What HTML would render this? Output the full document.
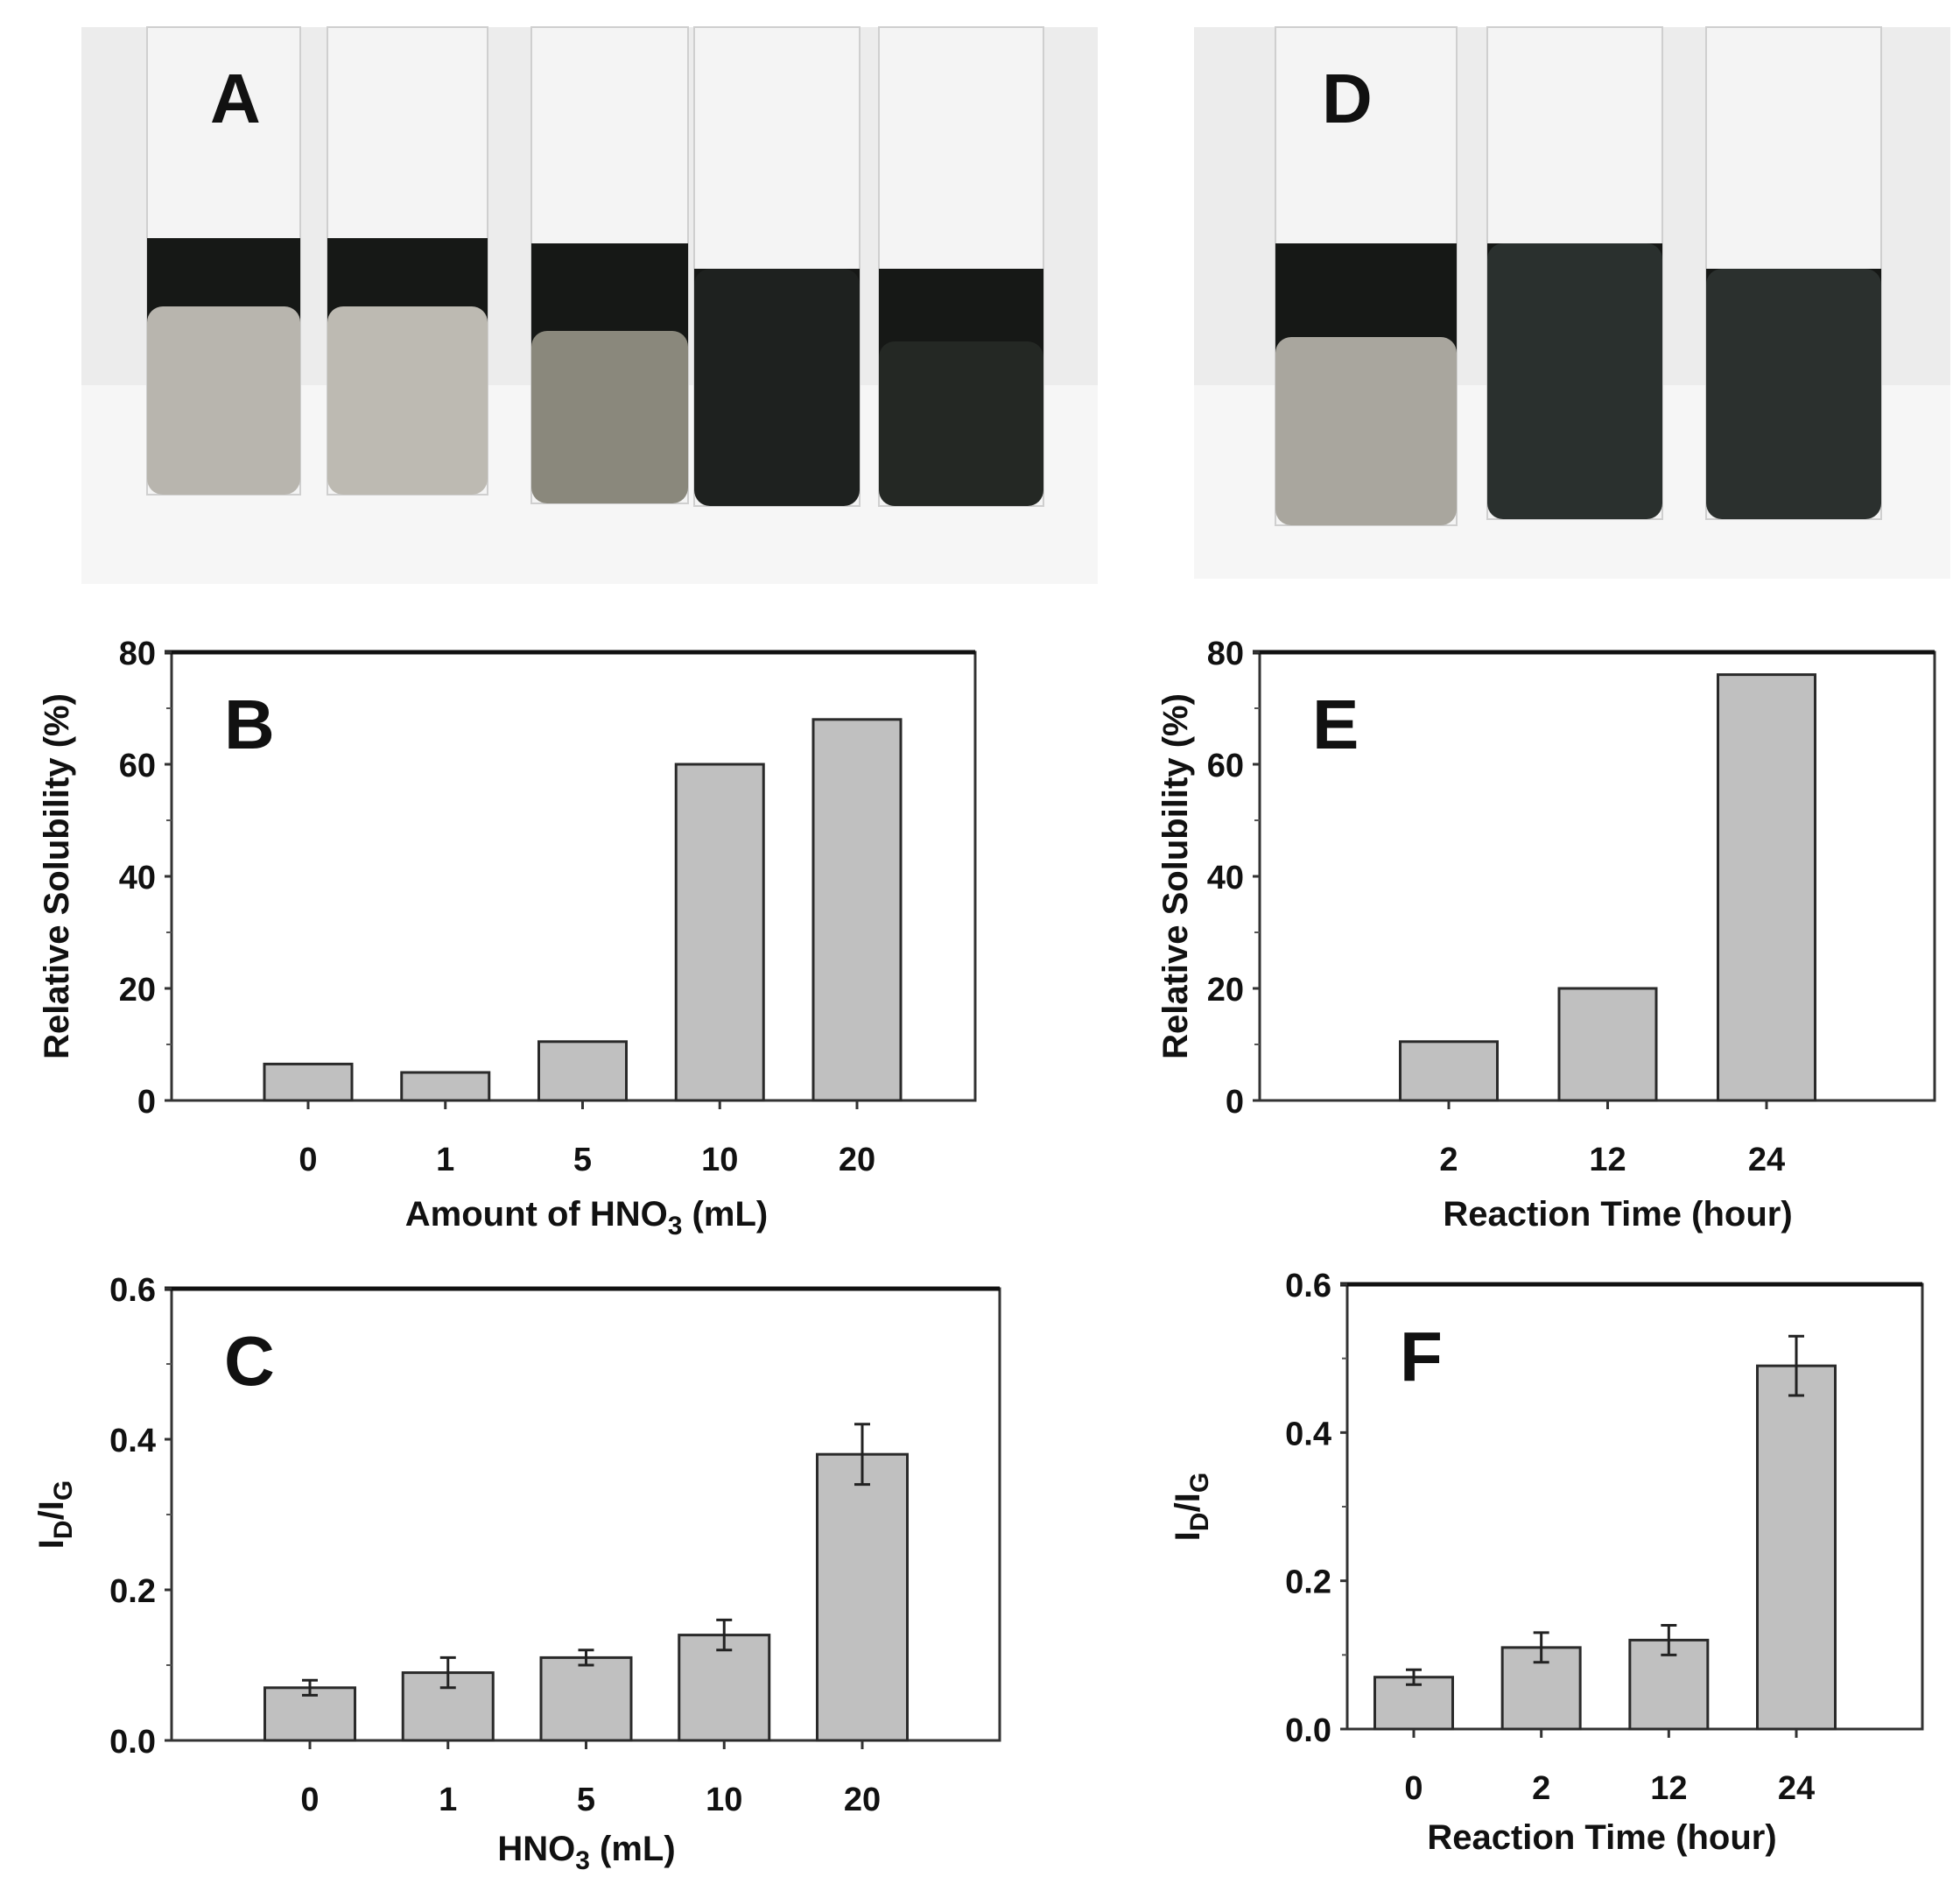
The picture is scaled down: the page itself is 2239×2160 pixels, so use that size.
<!DOCTYPE html>
<html><head><meta charset="utf-8"><style>
html,body{margin:0;padding:0;background:#fff}
svg{display:block}
text{font-family:"Liberation Sans",Arial,sans-serif;font-weight:bold;fill:#111}
</style></head><body>
<svg id="fig" width="2239" height="2160" viewBox="0 0 2239 2160" xmlns="http://www.w3.org/2000/svg">
<g id="photos">
<rect x="93" y="31" width="1161" height="636" fill="#ececec"/>
<rect x="93" y="440" width="1161" height="227" fill="#f6f6f6"/>
<rect x="1364" y="31" width="864" height="630" fill="#ececec"/>
<rect x="1364" y="440" width="864" height="221" fill="#f6f6f6"/>
</g>
<g id="vials"></g>
<text x="240" y="140" font-size="80">A</text>
<text x="1510" y="140" font-size="80">D</text>
<g id="charts"></g>
</svg>
<script>
// Panel B data
const catsB = ['0','1','5','10','20'];
const valsB = [6.5, 5, 10.5, 60, 68];
const ticksB = [0,20,40,60,80];
// Panel C data
const catsC = ['0','1','5','10','20'];
const valsC = [0.07, 0.09, 0.11, 0.14, 0.38];
const errC = [0.01, 0.02, 0.01, 0.02, 0.04];
const ticksC = ['0.0','0.2','0.4','0.6'];
// Panel E data
const catsE = ['2','12','24'];
const valsE = [10.5, 20, 76];
const ticksE = [0,20,40,60,80];
// Panel F data
const catsF = ['0','2','12','24'];
const valsF = [0.07, 0.11, 0.12, 0.49];
const errF = [0.01, 0.02, 0.02, 0.04];
const ticksF = ['0.0','0.2','0.4','0.6'];

const NS='http://www.w3.org/2000/svg';
function mk(parent,tag,attrs,txt){const e=document.createElementNS(NS,tag);for(const k in attrs)e.setAttribute(k,attrs[k]);if(txt!==undefined)e.textContent=txt;parent.appendChild(e);return e;}

// vials (decorative photo)
const vg=document.getElementById('vials');
const vialSpecs=[[168,343,272,350,'#b8b5ae',565],[374,557,272,350,'#bdbab2',565],[607,786,278,378,'#8a887c',575],[793,982,307,307,'#1e211f',578],[1004,1192,307,390,'#242824',578],
[1457,1664,278,385,'#a9a69e',600],[1699,1899,278,278,'#2a302e',593],[1949,2149,307,307,'#2b302e',593]];
vialSpecs.forEach((v,i)=>{
  const [x0,x1,d0,d1,col,bot]=v;
  const g=mk(vg,'g',{});
  
  
  mk(g,'rect',{x:x0,y:31,width:x1-x0,height:bot-31,fill:'#f4f4f4',stroke:'#cfcfcf','stroke-width':2});
  mk(g,'rect',{x:x0,y:d0,width:x1-x0,height:d1-d0+20,fill:'#161816'});
  mk(g,'rect',{x:x0,y:d1,width:x1-x0,height:bot-d1,rx:18,fill:col});
});

const charts=document.getElementById('charts');
function chart(o){
  const g=mk(charts,'g',{});
  
  
  const {L,T,R,B,ymax}=o;
  const y=v=>B-(v/ymax)*(B-T);
  const n=o.cats.length;
  const x=i=>o.c0+i*(o.c1-o.c0)/(n-1);
  // frame
  const fr=mk(g,'rect',{x:L,y:T,width:R-L,height:B-T,fill:'none',stroke:'#333','stroke-width':3});
  
  
  mk(g,'line',{x1:L-8,x2:R,y1:T,y2:T,stroke:'#111','stroke-width':5});
  // y ticks
  o.ticks.forEach((t,i)=>{
    const v=parseFloat(t);const yy=y(v);
    mk(g,'line',{x1:L-8,x2:L,y1:yy,y2:yy,stroke:'#333','stroke-width':3});
    const tx=mk(g,'text',{x:L-18,y:yy+14,'font-size':38,'text-anchor':'end'},t);
    
    
    if(i<o.ticks.length-1){const ym=y(v+ (parseFloat(o.ticks[1])-parseFloat(o.ticks[0]))/2);
      mk(g,'line',{x1:L-6,x2:L,y1:ym,y2:ym,stroke:'#555','stroke-width':2});}
  });
  o.cats.forEach((c,i)=>{
    const xx=x(i);
    const r=mk(g,'rect',{x:xx-o.bw/2,y:y(o.vals[i]),width:o.bw,height:B-y(o.vals[i]),fill:'#c0c0c0',stroke:'#2a2a2a','stroke-width':3});
    
    
    if(o.err){
      const e1=y(o.vals[i]+o.err[i]),e2=y(o.vals[i]-o.err[i]);
      const eb=mk(g,'path',{d:`M${xx},${e1}V${e2}M${xx-9},${e1}H${xx+9}M${xx-9},${e2}H${xx+9}`,stroke:'#222','stroke-width':3,fill:'none'});
      
      
    }
    mk(g,'line',{x1:xx,x2:xx,y1:B,y2:B+10,stroke:'#333','stroke-width':3});
    const tl=mk(g,'text',{x:xx,y:B+o.tickDy,'font-size':38,'text-anchor':'middle'},c);
    
    
  });
  const lab=mk(g,'text',{x:L+60,y:T+110,'font-size':80},o.letter);
  
  
  const xt=mk(g,'text',{x:o.xtX,y:o.xtY,'font-size':40,'text-anchor':'middle'});
  xt.innerHTML=o.xtitle;
  
  
  const yt=mk(g,'text',{x:0,y:0,'font-size':40,'text-anchor':'middle',transform:`translate(${o.ytX},${(T+B)/2}) rotate(-90)`});
  yt.innerHTML=o.ytitle;
  
  
}
chart({name:'chart-b',letter:'B',L:196,T:745,R:1114,B:1257,ymax:80,cats:catsB,vals:valsB,ticks:ticksB.map(String),c0:352,c1:979,bw:100,tickDy:80,xtitle:'Amount of HNO<tspan font-size="30" dy="10">3</tspan><tspan dy="-10"> (mL)</tspan>',xtX:670,xtY:1400,ytitle:'Relative Solubility (%)',ytX:78});
chart({name:'chart-c',letter:'C',L:196,T:1472,R:1142,B:1988,ymax:0.6,cats:catsC,vals:valsC,err:errC,ticks:ticksC,c0:354,c1:985,bw:103,tickDy:80,xtitle:'HNO<tspan font-size="30" dy="10">3</tspan><tspan dy="-10"> (mL)</tspan>',xtX:670,xtY:2125,ytitle:'I<tspan font-size="30" dy="10">D</tspan><tspan dy="-10">/I</tspan><tspan font-size="30" dy="10">G</tspan>',ytX:72});
chart({name:'chart-e',letter:'E',L:1439,T:745,R:2210,B:1257,ymax:80,cats:catsE,vals:valsE,ticks:ticksE.map(String),c0:1655,c1:2018,bw:111,tickDy:80,xtitle:'Reaction Time (hour)',xtX:1848,xtY:1400,ytitle:'Relative Solubility (%)',ytX:1356});
chart({name:'chart-f',letter:'F',L:1539,T:1467,R:2196,B:1975,ymax:0.6,cats:catsF,vals:valsF,err:errF,ticks:ticksF,c0:1615,c1:2052,bw:89,tickDy:80,xtitle:'Reaction Time (hour)',xtX:1830,xtY:2112,ytitle:'I<tspan font-size="30" dy="10">D</tspan><tspan dy="-10">/I</tspan><tspan font-size="30" dy="10">G</tspan>',ytX:1370});
</script>
</body></html>
